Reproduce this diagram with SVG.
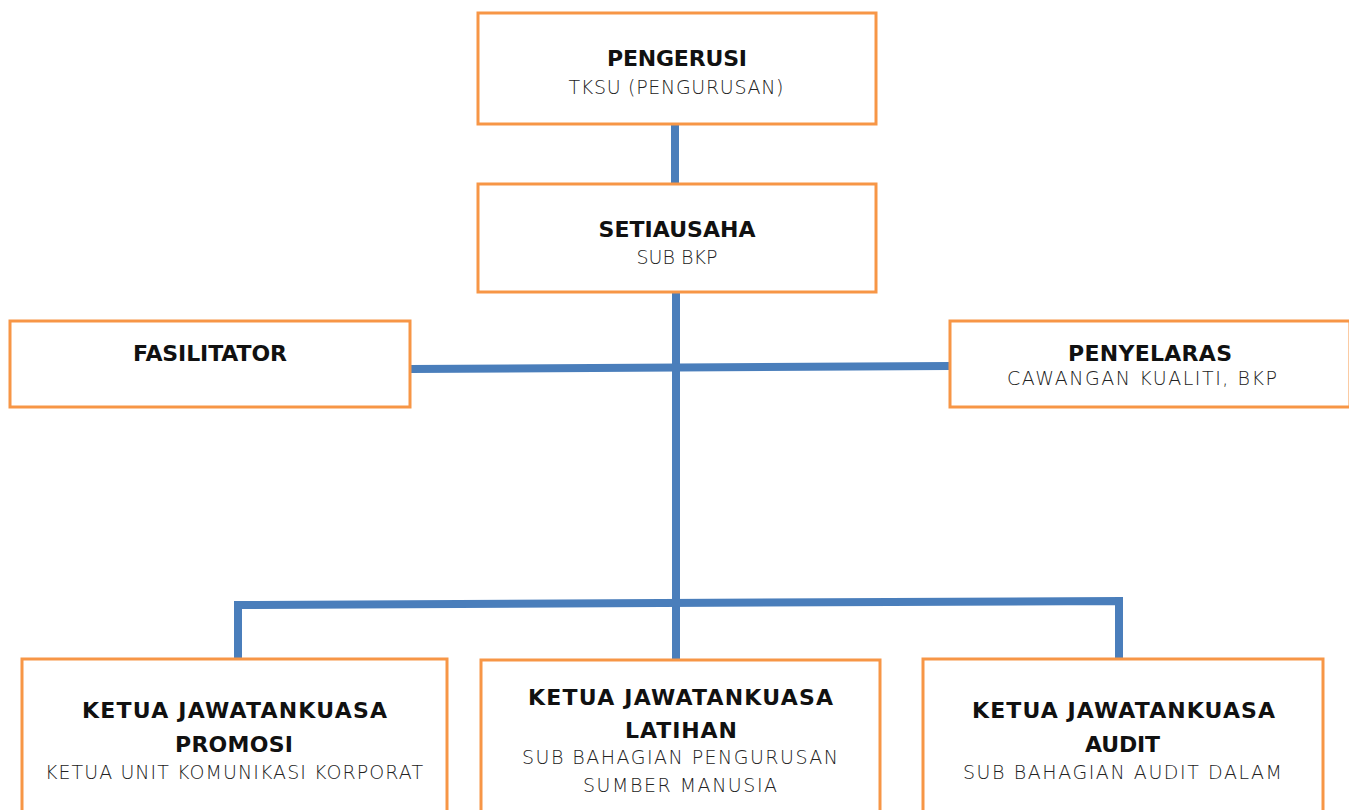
<svg xmlns="http://www.w3.org/2000/svg" width="1349" height="810" viewBox="0 0 1349 810">
<style>
.box{fill:#fff;stroke:#F79646;stroke-width:3}
.t{font-family:"DejaVu Sans",Lato,sans-serif;font-weight:bold;font-size:22px;fill:#111;text-anchor:middle}
.s{font-family:"DejaVu Sans",Lato,sans-serif;font-weight:200;font-size:19px;fill:#222;text-anchor:middle}
.c{fill:none;stroke:#4A7EBB;stroke-width:8;stroke-linejoin:miter}
</style>
<rect width="1349" height="810" fill="#fff"/>
<g id="connectors">
<line class="c" x1="675" y1="124" x2="675" y2="184"/>
<line class="c" x1="676" y1="292" x2="676" y2="660"/>
<line class="c" x1="410" y1="369" x2="950" y2="366"/>
<polyline class="c" points="238,659 238,605 1119,601 1119,659"/>
</g>
<g id="pengerusi">
<rect class="box" x="478" y="13" width="398" height="111"/>
<text class="t" x="677" y="66" textLength="140">PENGERUSI</text>
<text class="s" x="676" y="94" textLength="215">TKSU (PENGURUSAN)</text>
</g>
<g id="setiausaha">
<rect class="box" x="478" y="184" width="398" height="108"/>
<text class="t" x="677" y="237" textLength="157">SETIAUSAHA</text>
<text class="s" x="677" y="264" textLength="81">SUB BKP</text>
</g>
<g id="fasilitator">
<rect class="box" x="10" y="321" width="400" height="86"/>
<text class="t" x="210" y="361" textLength="154">FASILITATOR</text>
</g>
<g id="penyelaras">
<rect class="box" x="950" y="321" width="400" height="86"/>
<text class="t" x="1150" y="361" textLength="164">PENYELARAS</text>
<text class="s" x="1142" y="385" textLength="270">CAWANGAN KUALITI, BKP</text>
</g>
<g id="promosi">
<rect class="box" x="22" y="659" width="425" height="160"/>
<text class="t" x="234.5" y="718" textLength="305">KETUA JAWATANKUASA</text>
<text class="t" x="234" y="752" textLength="118">PROMOSI</text>
<text class="s" x="234" y="779" textLength="378">KETUA UNIT KOMUNIKASI KORPORAT</text>
</g>
<g id="latihan">
<rect class="box" x="481" y="660" width="399" height="160"/>
<text class="t" x="680.5" y="705" textLength="305">KETUA JAWATANKUASA</text>
<text class="t" x="681" y="738" textLength="112">LATIHAN</text>
<text class="s" x="680" y="764" textLength="316">SUB BAHAGIAN PENGURUSAN</text>
<text class="s" x="680" y="792" textLength="194">SUMBER MANUSIA</text>
</g>
<g id="audit">
<rect class="box" x="923" y="659" width="400" height="160"/>
<text class="t" x="1123.5" y="718" textLength="303">KETUA JAWATANKUASA</text>
<text class="t" x="1122.5" y="752" textLength="75">AUDIT</text>
<text class="s" x="1122.5" y="779" textLength="319">SUB BAHAGIAN AUDIT DALAM</text>
</g>
</svg>
